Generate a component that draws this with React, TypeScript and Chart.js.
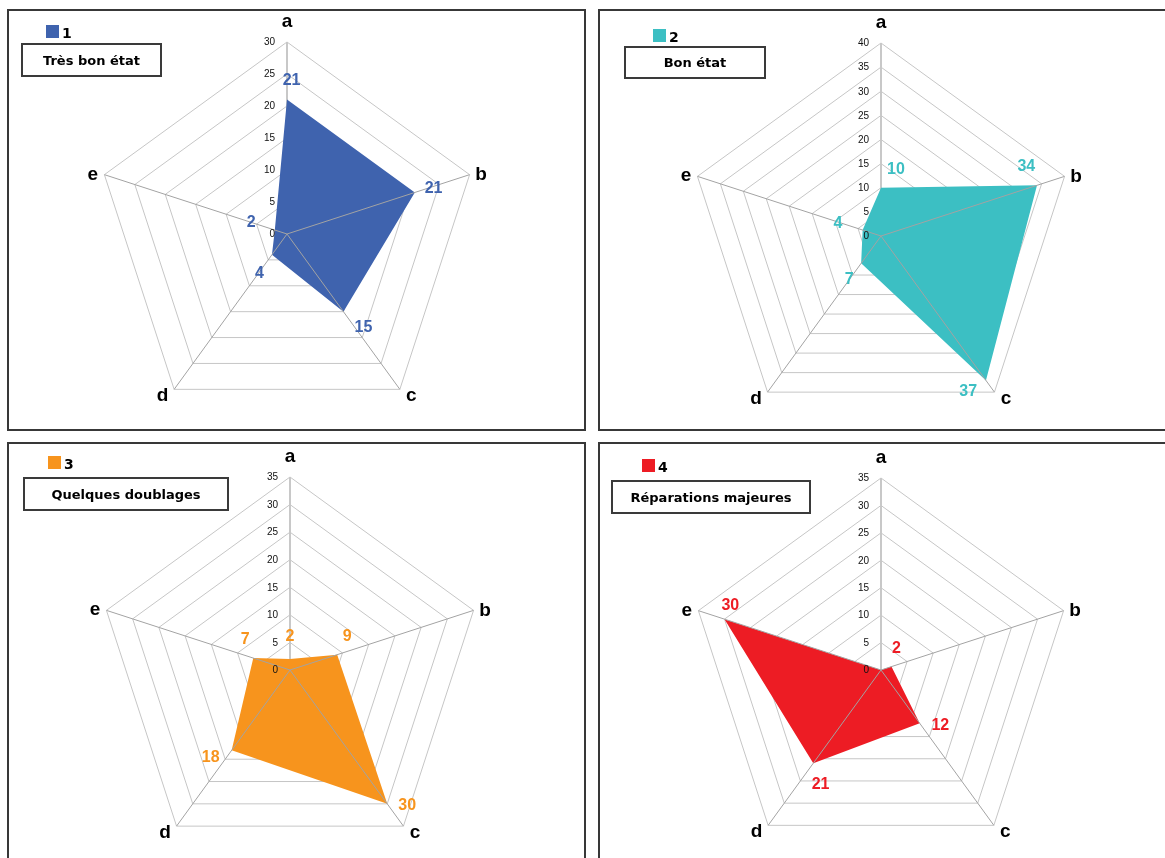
import React, { useEffect, useRef } from "react";
import { Chart, registerables } from "chart.js";

Chart.register(...registerables);

// ---------- data ----------
const categories = ["a", "b", "c", "d", "e"];
const seriesNumbers = ["1", "2", "3", "4"];
const seriesTitles = ["Très bon état", "Bon état", "Quelques doublages", "Réparations majeures"];
const tresBonEtat = [21, 21, 15, 4, 2];
const bonEtat = [10, 34, 37, 7, 4];
const quelquesDoublages = [2, 9, 30, 18, 7];
const reparationsMajeures = [0, 2, 12, 21, 30];
const axisMax = [30, 40, 35, 35];
const axisStep = 5;

const seriesValues = [tresBonEtat, bonEtat, quelquesDoublages, reparationsMajeures];

// ---------- styles / layout ----------
const colors = ["#3F63AE", "#3CBFC3", "#F7941D", "#ED1C24"];

type Layout = {
  panel: { left: number; top: number; width: number; height: number };
  canvas: { left: number; top: number; width: number; height: number };
  cx: number;
  cy: number;
  r: number;
  swatch: { left: number; top: number };
  box: { left: number; top: number; width: number; height: number };
  labelOffsets: number[][];
};

const layouts: Layout[] = [
  {
    panel: { left: 7, top: 9, width: 579, height: 422 },
    canvas: { left: 9, top: 11, width: 576, height: 418 },
    cx: 287, cy: 234, r: 192,
    swatch: { left: 46, top: 25 },
    box: { left: 21, top: 43, width: 141, height: 34 },
    labelOffsets: [[4.6, -20], [18.8, -5], [20, 15], [-12.4, 18], [-23.7, -8]],
  },
  {
    panel: { left: 598, top: 9, width: 600, height: 422 },
    canvas: { left: 600, top: 11, width: 565, height: 418 },
    cx: 881, cy: 236, r: 193,
    swatch: { left: 653, top: 29 },
    box: { left: 624, top: 46, width: 142, height: 33 },
    labelOffsets: [[15, -19.5], [-10.7, -19.3], [-17.7, 10.6], [-12, 15], [-24.8, -7.5]],
  },
  {
    panel: { left: 7, top: 442, width: 579, height: 500 },
    canvas: { left: 9, top: 444, width: 576, height: 426 },
    cx: 290, cy: 670, r: 193,
    swatch: { left: 48, top: 456 },
    box: { left: 23, top: 477, width: 206, height: 34 },
    labelOffsets: [[0, -23], [10, -19], [20, 1], [-21, 6], [-8, -19]],
  },
  {
    panel: { left: 598, top: 442, width: 600, height: 500 },
    canvas: { left: 600, top: 444, width: 565, height: 426 },
    cx: 881, cy: 670, r: 192,
    swatch: { left: 642, top: 459 },
    box: { left: 611, top: 480, width: 200, height: 34 },
    labelOffsets: [[0, -20], [5, -18.6], [20.6, 1.8], [7.3, 20.6], [5.8, -14.6]],
  },
];

// point-label placement relative to the outer vertex: [dx, dy(baseline)]
const pointLabelOffsets = [[0, -15], [11.5, 5.5], [11.5, 11.5], [-11.5, 11.5], [-11.5, 5]];

const overlayPlugin = {
  id: "overlay",
  afterDatasetsDraw(chart: any, _args: any, opts: any) {
    const scale = chart.scales.r;
    const ctx = chart.ctx as CanvasRenderingContext2D;
    const labels = chart.data.labels as string[];
    const n = labels.length;
    const max = scale.max;
    ctx.save();
    // spokes drawn over the filled area
    ctx.strokeStyle = "#a3a3a3";
    ctx.lineWidth = 1;
    for (let i = 1; i < n; i++) {
      const p = scale.getPointPositionForValue(i, max);
      ctx.beginPath();
      ctx.moveTo(scale.xCenter, scale.yCenter);
      ctx.lineTo(p.x, p.y);
      ctx.stroke();
    }
    // tick labels along the first axis
    ctx.font = "10px 'Liberation Sans', Arial, sans-serif";
    ctx.fillStyle = "#111";
    ctx.textAlign = "right";
    ctx.textBaseline = "middle";
    scale.ticks.forEach((t: any) => {
      const p = scale.getPointPositionForValue(0, t.value);
      ctx.fillText(String(t.value), p.x - 12, p.y + 0.5);
    });
    // category labels
    ctx.font = "bold 19px 'Liberation Sans', Arial, sans-serif";
    ctx.fillStyle = "#000";
    ctx.textAlign = "center";
    ctx.textBaseline = "alphabetic";
    for (let i = 0; i < n; i++) {
      const p = scale.getPointPositionForValue(i, max);
      const o = pointLabelOffsets[i];
      ctx.fillText(labels[i], p.x + o[0], p.y + o[1]);
    }
    // data labels
    const meta = chart.getDatasetMeta(0);
    const ds = chart.data.datasets[0];
    ctx.font = "bold 16px 'Liberation Sans', Arial, sans-serif";
    ctx.fillStyle = opts.color;
    ctx.textAlign = "center";
    ctx.textBaseline = "middle";
    meta.data.forEach((pt: any, i: number) => {
      const v = ds.data[i];
      if (!v) return;
      const o = opts.offsets[i];
      ctx.fillText(String(v), pt.x + o[0], pt.y + o[1] + 1);
    });
    ctx.restore();
  },
};

function RadarPanel({ idx }: { idx: number }) {
  const ref = useRef<HTMLCanvasElement | null>(null);
  const L = layouts[idx];
  useEffect(() => {
    if (!ref.current) return;
    const c = L.canvas;
    const padding = {
      left: L.cx - L.r - c.left,
      top: L.cy - L.r - c.top,
      right: c.left + c.width - (L.cx + L.r),
      bottom: c.top + c.height - (L.cy + L.r),
    };
    const chart = new Chart(ref.current, {
      type: "radar",
      data: {
        labels: categories,
        datasets: [
          {
            label: seriesTitles[idx],
            data: seriesValues[idx],
            backgroundColor: colors[idx],
            borderColor: colors[idx],
            borderWidth: 0,
            pointRadius: 0,
            fill: true,
          },
        ],
      },
      options: {
        responsive: false,
        maintainAspectRatio: false,
        animation: false,
        devicePixelRatio: 1,
        layout: { padding },
        elements: { line: { tension: 0 } },
        plugins: {
          legend: { display: false },
          tooltip: { enabled: false },
          overlay: { color: colors[idx], offsets: L.labelOffsets },
        } as any,
        scales: {
          r: {
            min: 0,
            max: axisMax[idx],
            ticks: { stepSize: axisStep, display: false },
            pointLabels: { display: false },
            grid: { color: "#c6c6c6", lineWidth: 1 },
            angleLines: {
              display: true,
              color: (ctx: any) => (ctx.index === 0 ? "#c8c8c8" : "rgba(0,0,0,0)"),
              lineWidth: (ctx: any) => (ctx.index === 0 ? 2 : 1),
            },
          },
        },
      },
      plugins: [overlayPlugin],
    } as any);
    return () => chart.destroy();
  }, []);

  const font = "'DejaVu Sans', Verdana, sans-serif";
  return (
    <>
      <div
        style={{
          position: "absolute",
          left: L.panel.left,
          top: L.panel.top,
          width: L.panel.width,
          height: L.panel.height,
          border: "2px solid #383838",
          boxSizing: "border-box",
        }}
      />
      <canvas
        ref={ref}
        width={L.canvas.width}
        height={L.canvas.height}
        style={{
          position: "absolute",
          left: L.canvas.left,
          top: L.canvas.top,
          width: L.canvas.width,
          height: L.canvas.height,
        }}
      />
      <div
        style={{
          position: "absolute",
          left: L.swatch.left,
          top: L.swatch.top,
          width: 13,
          height: 13,
          background: colors[idx],
        }}
      />
      <div
        style={{
          position: "absolute",
          left: L.swatch.left + 16,
          top: L.swatch.top - 1,
          font: `bold 14px ${font}`,
          lineHeight: "18px",
          color: "#000",
        }}
      >
        {seriesNumbers[idx]}
      </div>
      <div
        style={{
          position: "absolute",
          left: L.box.left,
          top: L.box.top,
          width: L.box.width,
          height: L.box.height,
          border: "2px solid #3a3a3a",
          boxSizing: "border-box",
          display: "flex",
          alignItems: "center",
          justifyContent: "center",
          font: `bold 13px ${font}`,
          color: "#000",
          background: "#fff",
        }}
      >
        {seriesTitles[idx]}
      </div>
    </>
  );
}

export default function App() {
  useEffect(() => {
    document.body.style.overflow = "hidden";
    document.documentElement.style.overflow = "hidden";
  }, []);
  return (
    <div
      style={{
        position: "fixed",
        left: 0,
        top: 0,
        width: 1165,
        height: 858,
        overflow: "hidden",
        background: "#fff",
      }}
    >
      {[0, 1, 2, 3].map((i) => (
        <RadarPanel key={i} idx={i} />
      ))}
    </div>
  );
}
